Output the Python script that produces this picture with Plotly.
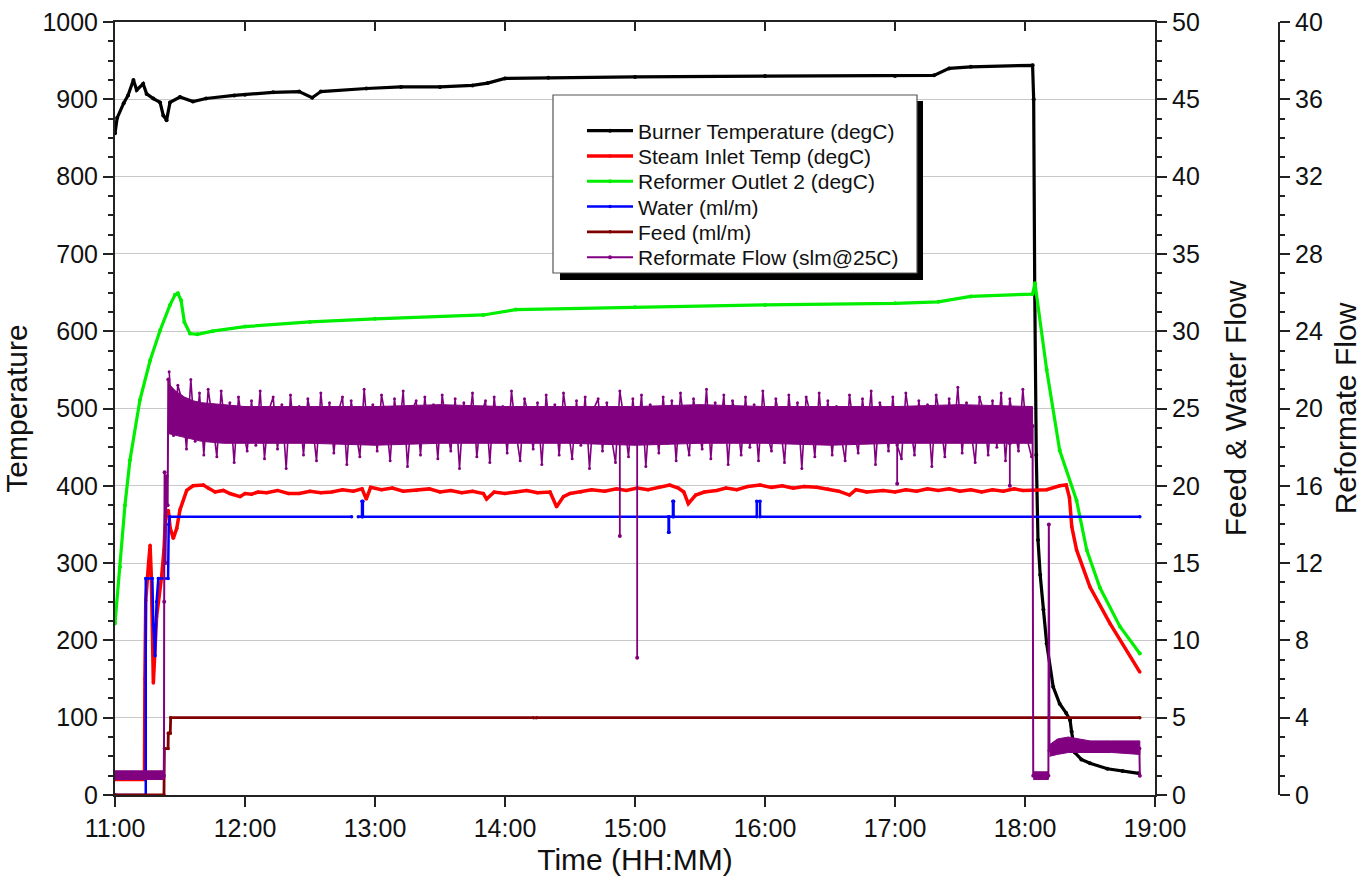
import plotly.graph_objects as go
import pandas as pd

# ---------------- data (time in minutes after 11:00) ----------------
t_burner = [0, 1, 4, 6, 8.5, 10, 13, 14.6, 17.7, 20.8, 22.3, 23.8, 25.4, 30, 36, 42, 55, 60, 73, 85,
            91, 95, 116, 132, 150, 165, 172, 180, 200, 240, 300, 360, 378, 385, 395, 423.5, 424, 424.5,
            425.2, 426, 427, 428.5, 430, 433, 436, 439, 440.8, 441.5, 443, 446, 450, 458, 465, 472.5]
burner_temp = [856, 876, 895, 905, 925, 912, 920, 907, 901, 896, 879, 873, 896, 903, 897, 901, 905, 906, 909, 910,
               902, 910, 914, 916, 916, 918, 921, 927, 928, 929, 930, 930, 931, 940, 942, 944, 900, 650,
               440, 330, 285, 240, 196, 140, 118, 106, 97, 82, 55, 46, 41, 34, 31, 28]

t_steam = [0, 13.6, 13.8, 14.2, 15.5, 16.2, 16.8, 17.7, 19.2, 21.5, 22.6, 23.4, 24.6, 25.5, 26.9, 28.5, 30,
           33.1, 36, 40.8, 43, 46.2, 50, 53, 57.7, 60, 63, 66, 70, 75, 80, 85, 90, 95, 100, 105, 110,
           114, 116, 118, 123, 128, 133, 139, 145, 150, 155, 160, 165, 170, 171.5, 175, 180, 185, 190,
           195, 200.8, 203.8, 207, 210, 215, 220, 226, 231.5, 236, 241, 246, 251, 256, 260, 262.5,
           264.6, 268, 272, 277.7, 282, 287, 292, 297.7, 303, 308, 313, 318, 323.8, 329, 334, 339,
           342, 347, 354.6, 360, 365, 370, 375, 380, 385, 390, 395, 400, 405, 410, 415, 419, 423.8,
           430, 436, 439, 440.5, 441.6, 443.8, 450, 459.2, 473]
steam_temp = [20, 20, 150, 252, 300, 323, 280, 145, 231, 282, 317, 365, 368, 345, 332, 345, 369,
              394, 400, 401, 397, 392, 394, 390, 386, 390, 389, 392, 391, 394, 390, 390, 393, 391, 392, 395, 393,
              396, 383, 398, 395, 397, 393, 394, 396, 392, 394, 391, 393, 390, 383, 392, 390, 392, 394,
              391, 392, 373, 386, 390, 392, 395, 393, 396, 394, 397, 395, 398, 401, 397, 392,
              377, 388, 392, 394, 397, 395, 399, 401, 398, 400, 397, 399, 398, 396, 393, 388,
              395, 392, 394, 392, 395, 393, 396, 394, 396, 393, 395, 392, 395, 393, 396, 394, 394,
              395, 400, 401, 385, 347, 317, 269, 222, 159]

t_outlet = [0, 2.3, 4.6, 6.9, 11.5, 16.2, 20.8, 25.4, 27.7, 29, 30.5, 32, 34.6, 38, 45, 60, 90, 120, 170,
            185, 240, 300, 360, 380, 395, 423.5, 424.6, 430, 436, 443.8, 448.5, 454.6, 463.8, 473]
outlet_temp = [222, 295, 375, 433, 511, 562, 601, 634, 647, 649, 640, 612, 597, 596, 600, 606, 612, 616, 621,
               628, 631, 634, 636, 638, 645, 648, 662, 550, 446, 381, 317, 268, 218, 183]

t_water = [0, 14.2, 14.2, 17.2, 17.7, 18.5, 19.2, 20, 24.5, 24.8, 25.3, 109.2, None, 112.3, 114, 114,
           114.4, 114.4, 255.5, 255.5, 255.7, 255.7, 257.5, 257.5, 257.8, 257.8, 296.2, 296.2, 297.7,
           297.7, 473]
water_flow = [0, 0, 14, 14, 11, 9, 12.5, 14, 14, 17.5, 18, 18, None, 18, 18, 19,
              19, 18, 18, 17, 17, 18, 18, 19, 19, 18, 18, 19, 19,
              18, 18]

t_feed = [0, 22.6, 22.8, 24.5, 24.6, 25.5, 25.7, 193.2, None, 194.4, 473]
feed_flow = [0, 0, 3, 3, 4, 4, 5, 5, None, 5, 5]

# reformate flow: trend line, noise envelopes, sampled fluctuations, drop-outs
t_reformate = [0, 22.6, 22.7, 22.9, 23.3, 23.8, 24.3, 24.6, 25.5, 27, 30, 40, 423.5, 423.8, 430.8,
               431.0, 431.3, 440, 472.8, 473]
reformate_flow = [1.0, 1.0, 10.0, 16.7, 12.0, 16.5, 15.0, 21.5, 20.0, 19.8, 19.4, 19.2, 19.1, 1.0, 1.0,
                  14.0, 2.3, 2.6, 2.4, 1.0]

band_t = [[0, 22.6], [24.6, 28, 32, 36, 40, 50, 60, 90, 120, 150, 180, 210, 240, 270, 300, 330, 360, 390, 423.5],
          [423.8, 430.8], [431.3, 435, 440, 450, 460, 473]]
band_hi = [[1.25, 1.25], [21.3, 20.9, 20.6, 20.4, 20.3, 20.2, 20.1, 20.1, 20.1, 20.2, 20.1, 20.1, 20.1, 20.2,
                          20.1, 20.1, 20.1, 20.2, 20.1],
           [1.2, 1.2], [2.6, 2.9, 3.0, 2.8, 2.8, 2.8]]
band_lo = [[0.8, 0.8], [18.7, 18.6, 18.5, 18.4, 18.3, 18.2, 18.2, 18.2, 18.1, 18.2, 18.2, 18.2, 18.1, 18.2,
                        18.2, 18.1, 18.2, 18.2, 18.2],
           [0.8, 0.8], [2.0, 2.1, 2.2, 2.2, 2.2, 2.1]]

sample_start, sample_step = 25, 2  # minutes
reformate_samples = [
    21.9, 18.6, 21.2, 20.4, 17.9, 21.5, 18.3, 20.8, 17.6, 21.0,
    19.4, 17.5, 20.9, 18.8, 20.3, 17.2, 20.6, 19.0, 17.8, 20.4,
    18.1, 20.9, 17.4, 19.9, 20.6, 17.9, 20.2, 16.9, 20.7, 18.4,
    20.1, 17.6, 20.5, 19.3, 17.3, 20.8, 18.5, 20.3, 17.7, 19.8,
    20.6, 17.1, 20.4, 18.9, 17.5, 21.0, 18.2, 20.2, 17.8, 20.7,
    19.5, 17.3, 20.5, 18.6, 20.9, 17.0, 19.9, 20.4, 17.6, 20.6,
    18.3, 20.2, 17.4, 20.7, 19.1, 17.8, 20.5, 16.9, 20.3, 18.7,
    20.8, 17.5, 19.7, 20.4, 17.2, 20.6, 18.4, 20.1, 17.7, 20.9,
    18.8, 17.3, 20.5, 19.6, 17.9, 20.3, 17.1, 20.7, 18.5, 20.2,
    17.6, 20.8, 19.2, 17.4, 20.4, 18.1, 20.6, 16.9, 20.0, 20.5,
    17.8, 20.3, 18.6, 17.2, 20.9, 19.4, 17.5, 20.5, 18.3, 20.7,
    17.0, 20.2, 19.8, 17.7, 20.6, 18.2, 20.4, 17.3, 20.8, 18.9,
    17.6, 20.5, 19.1, 17.9, 21.0, 17.4, 20.3, 18.6, 20.7, 17.1,
    20.4, 19.5, 17.6, 20.6, 18.0, 20.2, 17.3, 20.9, 18.7, 17.8,
    20.5, 19.3, 17.2, 20.7, 18.4, 20.3, 16.9, 20.6, 19.7, 17.5,
    20.8, 18.2, 20.4, 17.6, 20.1, 18.8, 17.3, 20.7, 19.0, 17.7,
    20.5, 18.5, 20.9, 17.1, 20.3, 19.6, 17.8, 20.6, 18.1, 17.4,
    20.8, 19.2, 17.6, 20.4, 18.6, 20.2, 17.0, 20.7, 19.4, 17.5,
    20.5, 18.3, 21.1, 17.7, 20.3, 18.9, 17.2, 20.6, 19.8, 17.6,
    20.4, 18.0, 20.8, 17.3, 20.5, 19.1, 17.8, 21.0, 18.4, 17.5,
]
dropout_t = [233, 241, 361, 413]
dropout_base = [18.2, 18.2, 18.2, 18.2]
dropout_min = [13.4, 7.1, 16.1, 16.0]

hour_ticks = [11, 12, 13, 14, 15, 16, 17, 18, 19]
hour_labels = ["11:00", "12:00", "13:00", "14:00", "15:00", "16:00", "17:00", "18:00", "19:00"]

# ---------------- helpers ----------------
BASE = pd.Timestamp("2000-01-01 11:00")


def tt(mins):
    return [None if m is None else BASE + pd.Timedelta(minutes=m) for m in mins]


BLACK = "#000000"
RED = "#ff0000"
GREEN = "#00ee00"
BLUE = "#0000ff"
MAROON = "#800000"
PURPLE = "#800080"

fig = go.Figure()

fig.add_trace(go.Scatter(x=tt(t_burner), y=burner_temp, name="Burner Temperature (degC)",
                         mode="lines+markers", line=dict(color=BLACK, width=3.2),
                         marker=dict(size=4, color=BLACK), yaxis="y", legend="legend"))
fig.add_trace(go.Scatter(x=tt(t_steam), y=steam_temp, name="Steam Inlet Temp (degC)",
                         mode="lines+markers", line=dict(color=RED, width=3.5),
                         marker=dict(size=3.5, color=RED), yaxis="y", legend="legend2"))
fig.add_trace(go.Scatter(x=tt(t_outlet), y=outlet_temp, name="Reformer Outlet 2 (degC)",
                         mode="lines+markers", line=dict(color=GREEN, width=3.2),
                         marker=dict(size=4, color=GREEN), yaxis="y", legend="legend3"))
fig.add_trace(go.Scatter(x=tt(t_water), y=water_flow, name="Water (ml/m)",
                         mode="lines+markers", line=dict(color=BLUE, width=2.5),
                         marker=dict(size=3.5, color=BLUE), yaxis="y2", connectgaps=False,
                         legend="legend4"))
fig.add_trace(go.Scatter(x=tt(t_feed), y=feed_flow, name="Feed (ml/m)",
                         mode="lines+markers", line=dict(color=MAROON, width=2.8),
                         marker=dict(size=3.5, color=MAROON), yaxis="y2", connectgaps=False,
                         legend="legend5"))

# reformate noise envelope (filled polygons)
bx, by = [], []
for ts, hi, lo in zip(band_t, band_hi, band_lo):
    bx += tt(ts) + tt(ts[::-1]) + [None]
    by += hi + lo[::-1] + [None]
fig.add_trace(go.Scatter(x=bx, y=by, mode="lines", fill="toself", fillcolor=PURPLE,
                         line=dict(color=PURPLE, width=1), yaxis="y3", showlegend=False,
                         hoverinfo="skip"))
# sampled fluctuations
sx = [sample_start + sample_step * i for i in range(len(reformate_samples))]
fig.add_trace(go.Scatter(x=tt(sx), y=reformate_samples, mode="lines+markers",
                         line=dict(color=PURPLE, width=1.6), marker=dict(size=3, color=PURPLE),
                         yaxis="y3", showlegend=False))
# drop-outs
dx, dy = [], []
for t, b, m in zip(dropout_t, dropout_base, dropout_min):
    dx += tt([t, t]) + [None]
    dy += [b, m, None]
fig.add_trace(go.Scatter(x=dx, y=dy, mode="lines+markers", line=dict(color=PURPLE, width=1.8),
                         marker=dict(size=4, color=PURPLE), yaxis="y3", showlegend=False))
fig.add_trace(go.Scatter(x=tt(t_reformate), y=reformate_flow, name="Reformate Flow (slm@25C)",
                         mode="lines+markers", line=dict(color=PURPLE, width=2),
                         marker=dict(size=4, color=PURPLE), yaxis="y3", legend="legend6"))
# carrier for top mirror ticks
fig.add_trace(go.Scatter(x=[], y=[], xaxis="x2", yaxis="y", showlegend=False))

# ---------------- layout ----------------
L, R, T, B = 115, 0, 22, 86
FW, FH = 1362, 881
PW = FW - L - R
PH = FH - T - B
x_right = 1155
far_axis_x = 1279


def px(xp):
    return (xp - L) / PW


def py(yp):
    return (FH - B - yp) / PH


AX = "#222222"
FONT = "Liberation Sans, Arial, sans-serif"
xrange_ = [BASE + pd.Timedelta(hours=h - 11) for h in (hour_ticks[0], hour_ticks[-1])]
xticks = [BASE + pd.Timedelta(hours=h - 11) for h in hour_ticks]

common_tick = dict(ticks="outside", ticklen=10, tickwidth=2, tickcolor=AX,
                   showline=True, linewidth=2, linecolor=AX, zeroline=False)

legend_rows = [131, 156.3, 181.6, 206.9, 232.2, 257.5]
legends = {}
for i, yrow in enumerate(legend_rows):
    key = "legend" if i == 0 else f"legend{i + 1}"
    legends[key] = dict(x=px(582), y=py(yrow), xanchor="left", yanchor="middle",
                        bgcolor="rgba(0,0,0,0)", borderwidth=0,
                        font=dict(size=21, family=FONT, color="#111111"), itemwidth=46)

fig.update_layout(
    width=FW, height=FH, template="none",
    margin=dict(l=L, r=R, t=T, b=B),
    paper_bgcolor="white", plot_bgcolor="white",
    font=dict(family=FONT, size=25, color="#111111"),
    xaxis=dict(domain=[0, px(x_right)], type="date", range=xrange_, tickvals=xticks,
               ticktext=hour_labels, showgrid=False, mirror=True, automargin=False,
               title=dict(text="Time (HH:MM)", standoff=8), **common_tick),
    xaxis2=dict(domain=[0, px(x_right)], type="date", range=xrange_, tickvals=xticks,
                overlaying="x", side="top", anchor="y", ticks="inside", ticklen=9, tickwidth=2,
                tickcolor=AX, showticklabels=False, showgrid=False, showline=False, zeroline=False),
    yaxis=dict(range=[0, 1000], dtick=100, showgrid=True, gridcolor="#c8c8c8", gridwidth=1.3,
               minor=dict(dtick=25, ticks="outside", ticklen=5, tickwidth=2, tickcolor=AX, showgrid=False),
               automargin=False, title=dict(text="Temperature", standoff=14), **common_tick),
    yaxis2=dict(range=[0, 50], dtick=5, overlaying="y", side="right", anchor="x", showgrid=False,
                minor=dict(dtick=1.25, ticks="outside", ticklen=5, tickwidth=2, tickcolor=AX, showgrid=False),
                automargin=False, title=dict(text="Feed & Water Flow", standoff=26), **common_tick),
    yaxis3=dict(range=[0, 40], dtick=4, overlaying="y", side="right", anchor="free",
                position=px(far_axis_x), showgrid=False,
                minor=dict(dtick=1, ticks="outside", ticklen=5, tickwidth=2, tickcolor=AX, showgrid=False),
                automargin=False, title=dict(text="Reformate Flow", standoff=14), **common_tick),
    shapes=[
        dict(type="rect", xref="paper", yref="paper", x0=px(560), x1=px(923), y0=py(280), y1=py(101),
             fillcolor="black", line=dict(width=0), layer="above"),
        dict(type="rect", xref="paper", yref="paper", x0=px(553), x1=px(917), y0=py(273), y1=py(95),
             fillcolor="white", line=dict(color="#555555", width=1.2), layer="above"),
    ],
    **legends,
)

fig.write_html("out.html")
